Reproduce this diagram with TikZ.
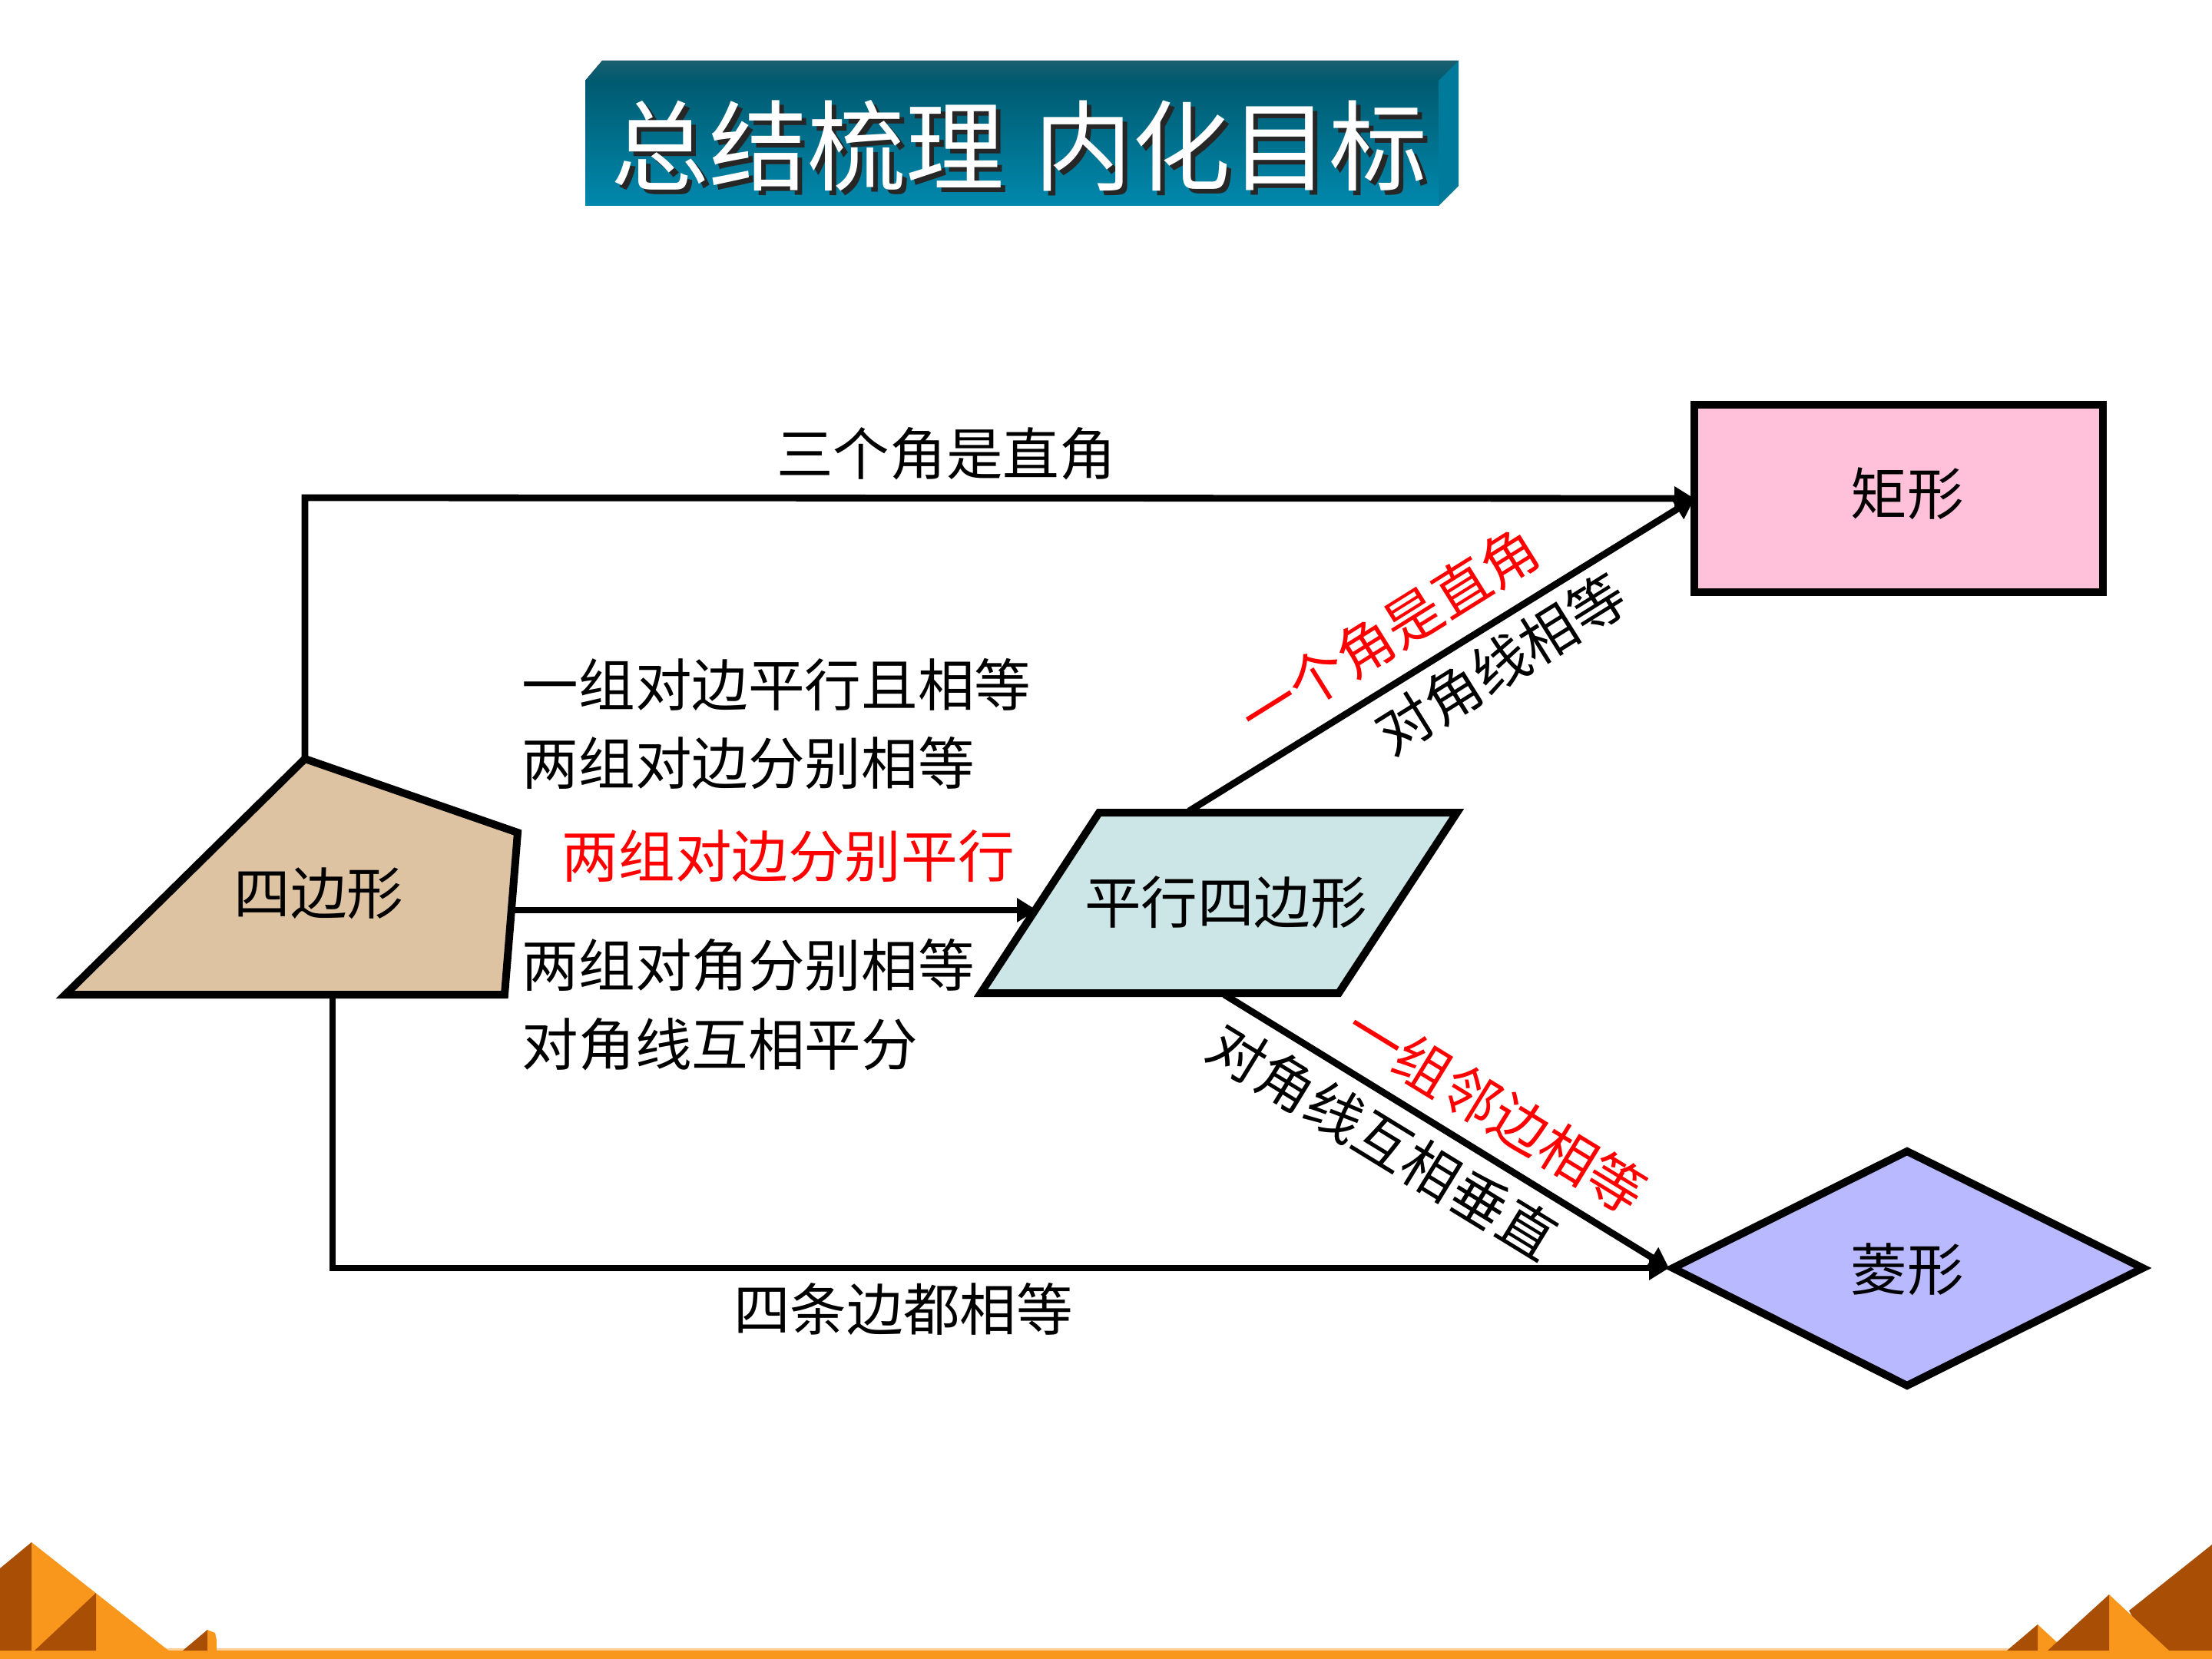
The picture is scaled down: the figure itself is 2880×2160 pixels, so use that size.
\documentclass[tikz,border=0pt]{standalone}
\usepackage{fontspec}
\setmainfont{Noto Sans CJK SC}
\usetikzlibrary{arrows.meta,shapes.geometric,calc}
\newcommand{\lbl}{\fontsize{18.4}{20}\selectfont}
\newcommand{\ttl}{\fontsize{32}{34}\selectfont}
\definecolor{bandorange}{HTML}{F8971B}
\definecolor{banddark}{HTML}{A94E05}
\definecolor{slabtopa}{HTML}{1A5F70}
\definecolor{slabtopb}{HTML}{005A70}
\definecolor{slabside}{HTML}{007A9A}
\definecolor{slabfronta}{HTML}{005A70}
\definecolor{slabfrontb}{HTML}{0088AD}
\definecolor{quadfill}{HTML}{DEC3A3}
\definecolor{parafill}{HTML}{CCE6E8}
\definecolor{rectfill}{HTML}{FFC0DA}
\definecolor{rhombfill}{HTML}{B9B9FF}
\tikzset{
  shapeedge/.style={draw=black,line width=2.5pt,line join=miter},
  link/.style={draw=black,line width=2.2pt,line join=miter},
  linkarrow/.style={link,-{Triangle[length=6.5pt,width=7.5pt]}},
  caption/.style={inner sep=0pt,font=\lbl,text=black},
  leftcaption/.style={caption,anchor=west},
  redcaption/.style={caption,text=red},
  redleft/.style={leftcaption,text=red},
  titletext/.style={inner sep=0pt,font=\ttl},
}
\begin{document}
\begin{tikzpicture}[x=0.25pt,y=-0.25pt]
\useasboundingbox (0,0) rectangle (2880,2160);

% title block: a slab with top, right and front faces
\fill[top color=slabtopa,bottom color=slabtopb] (762,105) -- (784,79) -- (1899,79) -- (1873,105) -- cycle;
\fill[slabside] (1873,105) -- (1899,79) -- (1899,242) -- (1873,268) -- cycle;
\fill[top color=slabfronta,bottom color=slabfrontb] (762,105) rectangle (1873,268);
\node[titletext,text=black!85] (titleshadowa) at (1057,196) {总结梳理};
\node[titletext,text=black!85] (titleshadowb) at (1608,196) {内化目标};
\node[titletext,text=white] (titlea) at (1051,190) {总结梳理};
\node[titletext,text=white] (titleb) at (1602,190) {内化目标};

% the four figures
\coordinate (qa) at (397,988);
\coordinate (qb) at (674,1084);
\coordinate (qc) at (657,1295);
\coordinate (qd) at (85,1295);
\coordinate (qright) at (670,1185);
\coordinate (qlow) at (433,1295);
\coordinate (qtop) at (397,990);
\path[shapeedge,fill=quadfill] (qa) -- (qb) -- (qc) -- (qd) -- cycle;
\node[caption] (quad) at (415,1163) {四边形};

\coordinate (pa) at (1431,1058);
\coordinate (pb) at (1897,1058);
\coordinate (pc) at (1743,1293);
\coordinate (pd) at (1277,1293);
\coordinate (pleft) at (1350,1185);
\coordinate (ptop) at (1548,1056);
\coordinate (pbot) at (1594,1295);
\path[shapeedge,fill=parafill] (pa) -- (pb) -- (pc) -- (pd) -- cycle;
\node[caption] (para) at (1596,1175) {平行四边形};

\node[shapeedge,fill=rectfill,rectangle,inner sep=0pt,outer sep=0pt,
      minimum width=133pt,minimum height=61pt] (rect) at (2472,649) {};
\node[caption] (recttext) at (2483,643) {矩形};

\coordinate (da) at (2178,1651);
\coordinate (db) at (2483,1499);
\coordinate (dc) at (2790,1651);
\coordinate (dd) at (2483,1804);
\path[shapeedge,fill=rhombfill] (da) -- (db) -- (dc) -- (dd) -- cycle;
\node[caption] (rhomb) at (2483,1653) {菱形};

% connectors
\coordinate (topbend) at (397,648);
\coordinate (lowbend) at (433,1651);
\coordinate (dtip) at (2173,1651);
\draw[linkarrow] (qtop) -- (topbend) -- (rect.west);
\draw[linkarrow] (qright) -- (pleft);
\draw[linkarrow] (ptop) -- (rect.west);
\draw[linkarrow] (pbot) -- (dtip);
\draw[linkarrow] (qlow) -- (lowbend) -- (dtip);

% condition labels
\node[caption] (t1) at (1232,591) {三个角是直角};
\node[leftcaption] (t2) at (679,891) {一组对边平行且相等};
\node[leftcaption] (t3) at (679,993) {两组对边分别相等};
\node[redleft] (t4) at (731,1115) {两组对边分别平行};
\node[leftcaption] (t5) at (679,1257) {两组对角分别相等};
\node[leftcaption] (t6) at (679,1360) {对角线互相平分};
\node[redcaption,rotate=32] (t7) at (1809,823) {一个角是直角};
\node[caption,rotate=32] (t8) at (1954,864) {对角线相等};
\node[redcaption,rotate=-31.5] (t9) at (1948,1445) {一组邻边相等};
\node[caption,rotate=-31.5] (t10) at (1801,1486) {对角线互相垂直};
\node[caption] (t11) at (1176,1704) {四条边都相等};

% footer band with pyramids
\fill[bandorange!45!white] (0,2146) rectangle (2880,2150);
\fill[bandorange] (0,2149) rectangle (2880,2160);
\fill[bandorange] (41,2008) -- (222,2151) -- (41,2151) -- cycle;
\fill[banddark] (0,2042) -- (41,2008) -- (41,2149) -- (0,2149) -- cycle;
\fill[banddark] (125,2074) -- (125,2149) -- (45,2149) -- cycle;
\fill[bandorange] (270,2122) -- (280,2126) -- (282,2135) -- (282,2150) -- (268,2150) -- cycle;
\fill[banddark] (270,2122) -- (270,2149) -- (238,2149) -- cycle;
\fill[banddark] (2880,2011) -- (2880,2149) -- (2800,2149) -- (2772,2097) -- cycle;
\fill[bandorange] (2653,2115) -- (2680,2140) -- (2672,2150) -- (2653,2150) -- cycle;
\fill[banddark] (2653,2115) -- (2653,2149) -- (2613,2149) -- cycle;
\fill[bandorange] (2746,2076) -- (2826,2151) -- (2746,2151) -- cycle;
\fill[banddark] (2746,2076) -- (2746,2149) -- (2666,2149) -- cycle;
\end{tikzpicture}
\end{document}
